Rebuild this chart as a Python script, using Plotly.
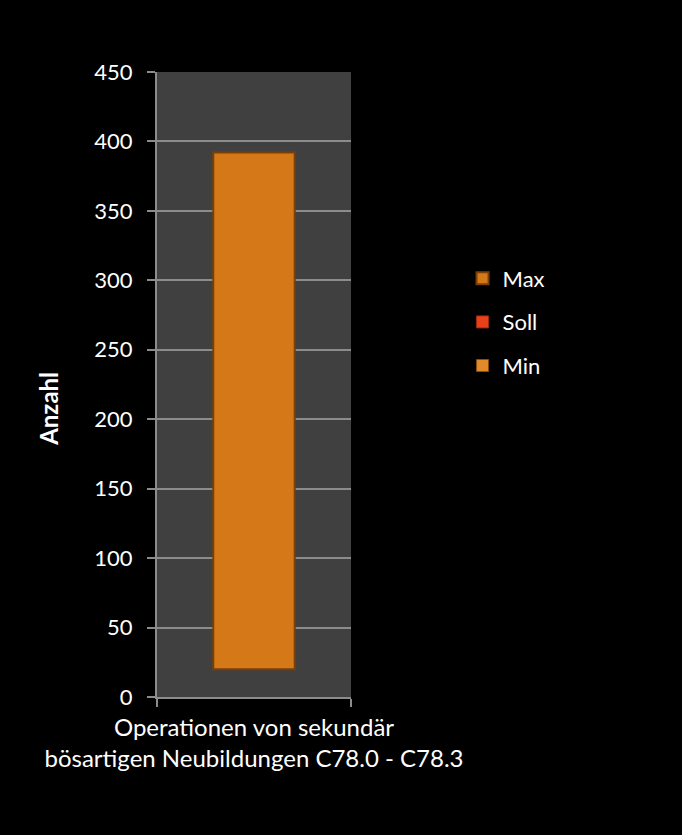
import plotly.graph_objects as go

categories = ["Operationen von sekundär<br>bösartigen Neubildungen C78.0 - C78.3"]
min_values = [20]
max_values = [392]
soll_values = [None]
y_ticks = [0, 50, 100, 150, 200, 250, 300, 350, 400, 450]

font_family = "Lato, 'Open Sans', sans-serif"

fig = go.Figure()
fig.add_trace(go.Bar(
    name="Max", x=categories, legendgroup="max",
    y=[mx - mn for mx, mn in zip(max_values, min_values)],
    base=min_values,
    marker=dict(color="#D47818", line=dict(color="#7A3F08", width=2)),
    hoverinfo="skip",
))
fig.add_trace(go.Bar(
    name="Soll", x=categories, y=soll_values, legendgroup="soll",
    marker=dict(color="#E8401A", line=dict(color="#A02A0A", width=1)),
))
fig.add_trace(go.Bar(
    name="Min", x=categories, y=[None for _ in min_values], legendgroup="min",
    marker=dict(color="#E08A2A", line=dict(color="#8B4A0F", width=1)),
))

fig.update_layout(
    width=682, height=835,
    paper_bgcolor="#000000",
    plot_bgcolor="#404040",
    margin=dict(l=157, r=331, t=72, b=138, autoexpand=False),
    bargap=0.58,
    barmode="overlay",
    font=dict(family=font_family, size=22, color="#FFFFFF"),
    showlegend=True,
    legend=dict(
        x=1.575, y=0.60, xanchor="left", yanchor="middle",
        bgcolor="rgba(0,0,0,0)", font=dict(size=22, color="#FFFFFF"),
        traceorder="grouped", tracegroupgap=12,
    ),
    xaxis=dict(
        showgrid=False, showline=True, linecolor="#8C8C8C", linewidth=2,
        ticks="outside", tickson="boundaries", ticklen=8, tickcolor="#8C8C8C",
        tickwidth=2, tickfont=dict(size=24, color="#FFFFFF"), tickangle=0,
        ticklabelstandoff=8, automargin=False,
    ),
    yaxis=dict(
        range=[0, 450], tickvals=y_ticks, showgrid=True, gridcolor="#8C8C8C",
        gridwidth=1.5, showline=True, linecolor="#8C8C8C", linewidth=2,
        ticks="outside", ticklen=8, tickcolor="#8C8C8C", tickwidth=2,
        tickfont=dict(size=22, color="#FFFFFF"), zeroline=False,
        ticklabelstandoff=10, automargin=False,
    ),
    annotations=[dict(
        text="<b>Anzahl</b>", xref="paper", yref="paper", x=-0.557, y=0.461,
        textangle=-90, showarrow=False, xanchor="center", yanchor="middle",
        font=dict(size=24, color="#FFFFFF"),
    )],
)

fig.write_html(
    "out.html",
    config={"displayModeBar": False},
    post_script="document.body.style.margin='0';document.body.style.background='#000';",
)
